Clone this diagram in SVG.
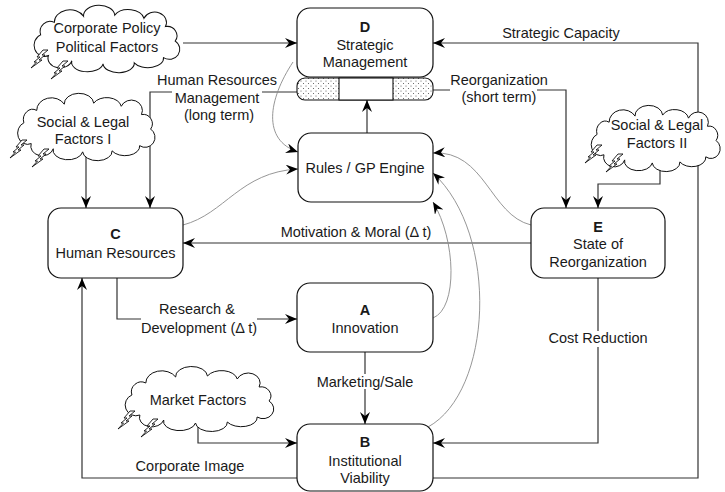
<svg xmlns="http://www.w3.org/2000/svg" width="725" height="492" viewBox="0 0 725 492">
<style>
text{font-family:"Liberation Sans",Arial,sans-serif;font-size:14.5px;fill:#1a1a1a;text-anchor:middle}
.b{font-weight:bold}
.box{fill:#fff;stroke:#111;stroke-width:1.2}
.ln{fill:none;stroke:#333;stroke-width:1.2}
.cv{fill:none;stroke:#8a8a8a;stroke-width:0.9}
.arr{marker-end:url(#ah)}
.bg{fill:#fff;stroke:none}
.cloud{fill:#fff;stroke:#111;stroke-width:1}
.bolt{fill:#fff;stroke:#111;stroke-width:0.9;stroke-linejoin:miter}
</style>
<defs>
<marker id="ah" viewBox="0 0 12 10" refX="12" refY="5" markerWidth="12" markerHeight="10" markerUnits="userSpaceOnUse" orient="auto">
<path d="M0,0 L12,5 L0,10 L4,5 Z" fill="#000"/>
</marker>
<pattern id="dots" width="5" height="5" patternUnits="userSpaceOnUse">
<rect width="5" height="5" fill="#fff"/>
<circle cx="1" cy="1" r="0.55" fill="#555"/>
<circle cx="3.5" cy="3.5" r="0.55" fill="#555"/>
</pattern>
<symbol id="cloud" viewBox="0 0 160 56" preserveAspectRatio="none" overflow="visible">
<path class="cloud" vector-effect="non-scaling-stroke" d="M14,24 A10,10 0 0 1 28,12 A16,12 0 0 1 58,6 A16,10 0 0 1 90,5 A16,10 0 0 1 120,8 A12,10 0 0 1 142,16 A10,9 0 0 1 152,30 A10,9 0 0 1 140,46 A16,9 0 0 1 110,51 A16,9 0 0 1 78,52 A16,9 0 0 1 46,49 A12,9 0 0 1 22,44 A10,10 0 0 1 14,24 Z"/>
</symbol>
<g id="bolt">
<path class="bolt" d="M17,0 L12,0 L6,7 L9,7 L3,12 L5.5,12 L0,18 L11,10 L8,10 L14,5 L11,5 Z"/>
</g>
</defs>
<rect width="725" height="492" fill="#fff"/>

<g id="connectors">
<path class="ln arr" d="M183,43 H297"/>
<path class="ln arr" d="M433,478 H698 V43 H433"/>
<path class="ln arr" d="M367,133 V100"/>
<path class="ln arr" d="M297,92 H150 V208"/>
<path class="ln arr" d="M86,155 V208"/>
<path class="ln arr" d="M433,90 H566 V208"/>
<path class="ln arr" d="M660,165 V184 H598 V208"/>
<path class="ln arr" d="M531,243 H183"/>
<path class="ln arr" d="M117,278 V319 H297"/>
<path class="ln arr" d="M365,352 V424"/>
<path class="ln arr" d="M198,427 V443 H297"/>
<path class="ln arr" d="M598,278 V443 H433"/>
<path class="ln arr" d="M297,478 H82 V278"/>
<path class="cv arr" d="M293,62 C268,100 262,140 298,152"/>
<path class="cv arr" d="M183,225 C225,214 240,172 298,169"/>
<path class="cv arr" d="M531,225 C490,215 485,150 433,153"/>
<path class="cv arr" d="M433,318 C458,308 456,240 433,202"/>
<path class="cv arr" d="M428,427 C492,392 500,235 433,173"/>
<g id="labels">
<rect class="bg" x="172" y="90" width="90" height="16"/>
<text x="217" y="85">Human Resources</text>
<text x="217" y="103">Management</text>
<text x="219" y="120">(long term)</text>
<rect class="bg" x="450" y="86" width="87" height="8"/>
<text x="499" y="85">Reorganization</text>
<text x="499" y="102">(short term)</text>
<text x="561" y="38">Strategic Capacity</text>
<text x="356" y="237">Motivation &amp; Moral (Δ t)</text>
<rect class="bg" x="141" y="318" width="116" height="18"/>
<text x="197" y="314">Research &amp;</text>
<text x="199" y="333">Development (Δ t)</text>
<rect class="bg" x="314" y="374" width="102" height="15"/>
<text x="365" y="387">Marketing/Sale</text>
<rect class="bg" x="546" y="331" width="104" height="16"/>
<text x="598" y="343">Cost Reduction</text>
<text x="190" y="471">Corporate Image</text>
</g>
</g>

<g id="node-D">
<rect class="box" x="297" y="8" width="136" height="69" rx="13"/>
<text class="b" x="365" y="32">D</text>
<text x="365" y="50">Strategic</text>
<text x="365" y="67">Management</text>
</g>
<g id="node-D-bar">
<rect x="297" y="78" width="136" height="22" rx="8" fill="url(#dots)" stroke="#111" stroke-width="1.1"/>
<rect x="339" y="78" width="54" height="22" fill="#fff" stroke="#111" stroke-width="1.1"/>
</g>
<g id="node-rules">
<rect class="box" x="298" y="133" width="135" height="69" rx="13"/>
<text x="365" y="173">Rules / GP Engine</text>
</g>
<g id="node-C">
<rect class="box" x="48" y="208" width="135" height="70" rx="13"/>
<text class="b" x="115.5" y="239">C</text>
<text x="115.5" y="258">Human Resources</text>
</g>
<g id="node-E">
<rect class="box" x="531" y="208" width="134" height="70" rx="13"/>
<text class="b" x="598" y="232">E</text>
<text x="598" y="249">State of</text>
<text x="598" y="267">Reorganization</text>
</g>
<g id="node-A">
<rect class="box" x="297" y="283" width="136" height="69" rx="13"/>
<text class="b" x="365" y="315">A</text>
<text x="365" y="333">Innovation</text>
</g>
<g id="node-B">
<rect class="box" x="297" y="424" width="136" height="67" rx="13"/>
<text class="b" x="365" y="447">B</text>
<text x="365" y="466">Institutional</text>
<text x="365" y="483">Viability</text>
</g>

<g id="cloud-corporate">
<use href="#cloud" x="27" y="10" width="156" height="58"/>
<use href="#bolt" x="31" y="50"/>
<use href="#bolt" x="51" y="61"/>
<text x="107" y="33">Corporate Policy</text>
<text x="107" y="52">Political Factors</text>
</g>
<g id="cloud-social1">
<use href="#cloud" x="11" y="98" width="147" height="58"/>
<use href="#bolt" x="10" y="140"/>
<use href="#bolt" x="32" y="149"/>
<text x="83" y="127">Social &amp; Legal</text>
<text x="83" y="144">Factors I</text>
</g>
<g id="cloud-social2">
<use href="#cloud" x="585" y="110" width="138" height="57"/>
<use href="#bolt" x="585" y="145"/>
<use href="#bolt" x="606" y="154"/>
<text x="657" y="130">Social &amp; Legal</text>
<text x="657" y="148">Factors II</text>
</g>
<g id="cloud-market">
<use href="#cloud" x="118" y="371" width="159" height="56"/>
<use href="#bolt" x="118" y="411"/>
<use href="#bolt" x="141" y="419"/>
<text x="198" y="405">Market Factors</text>
</g>
</svg>
